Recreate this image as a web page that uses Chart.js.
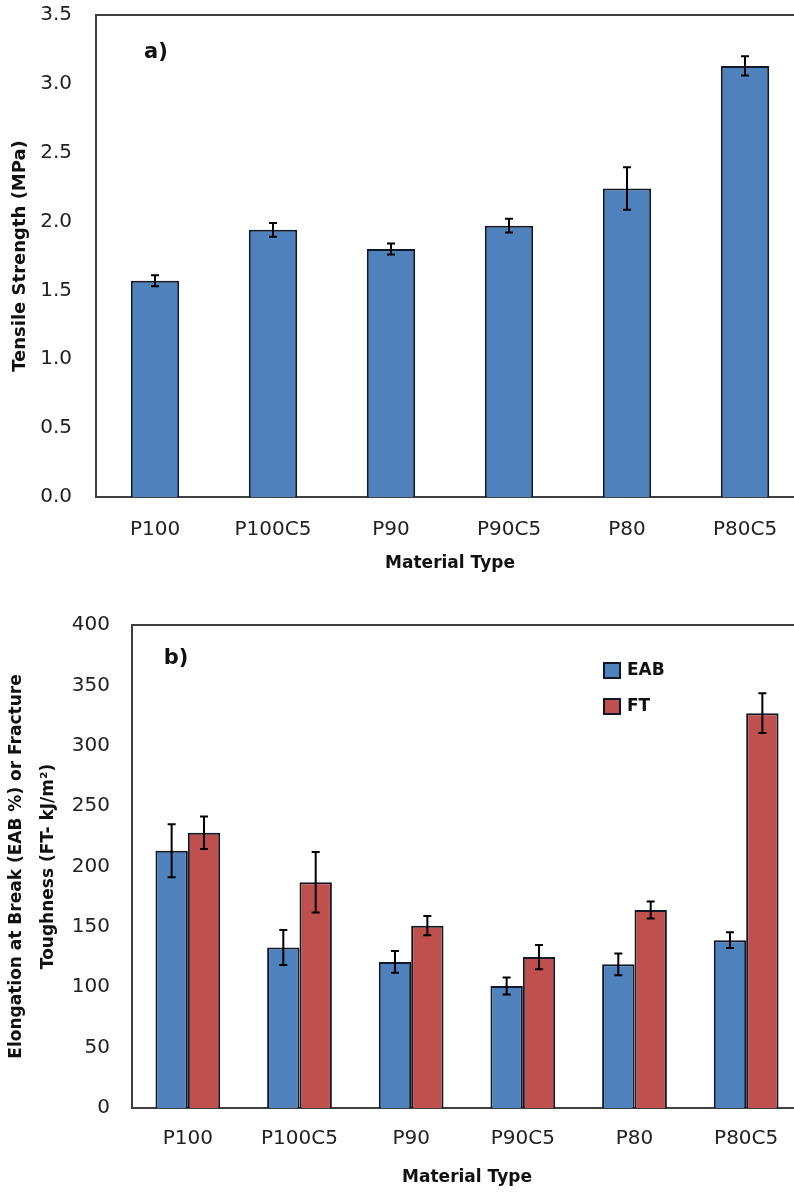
<!DOCTYPE html>
<html>
<head>
<meta charset="utf-8">
<script src="https://cdn.jsdelivr.net/npm/chart.js@4.4.1/dist/chart.umd.min.js"></script>
<style>
  body { margin: 0; background: #fff; overflow: hidden; width: 794px; height: 1193px; }
  canvas { display: block; }
</style>
</head>
<body>
<canvas id="chartA" width="804" height="590"></canvas>
<canvas id="chartB" width="802" height="603"></canvas>
<script>
// data
const categories = ["P100", "P100C5", "P90", "P90C5", "P80", "P80C5"];
const tensile = [1.57, 1.94, 1.80, 1.97, 2.24, 3.13];
const tensileErr = [0.04, 0.05, 0.04, 0.05, 0.155, 0.07];
const eab = [213, 133, 121, 101, 119, 139];
const eabErr = [22, 14.5, 9, 7, 9, 6.5];
const ft = [228, 187, 151, 125, 164, 327];
const ftErr = [13.5, 25, 8, 10, 7, 16.5];
const tensileTicks = [0, 0.5, 1, 1.5, 2, 2.5, 3, 3.5];
const toughTicks = [0, 50, 100, 150, 200, 250, 300, 350, 400];

const FONT = "'DejaVu Sans', sans-serif";
const BLUE = "#4f81bd";
const RED = "#c0504d";
const EDGE = "#111827";
const AXIS = "#404040";

Chart.defaults.font.family = FONT;
Chart.defaults.color = "#222";

// error bars, drawn through the y scale
const errorBars = {
  id: "errorBars",
  afterDatasetsDraw(chart) {
    const ctx = chart.ctx;
    const y = chart.scales.y;
    chart.data.datasets.forEach((ds, i) => {
      const meta = chart.getDatasetMeta(i);
      meta.data.forEach((bar, j) => {
        const v = ds.data[j], e = ds.errors[j];
        const top = y.getPixelForValue(v + e);
        const bot = y.getPixelForValue(v - e);
        ctx.save();
        ctx.strokeStyle = "#000";
        ctx.lineWidth = 2;
        ctx.beginPath();
        ctx.moveTo(bar.x, top); ctx.lineTo(bar.x, bot);
        ctx.moveTo(bar.x - 4, top); ctx.lineTo(bar.x + 4, top);
        ctx.moveTo(bar.x - 4, bot); ctx.lineTo(bar.x + 4, bot);
        ctx.stroke();
        ctx.restore();
      });
    });
  }
};

// top frame line + panel letter + optional legend
const decor = {
  id: "decor",
  afterDraw(chart, args, opts) {
    const ctx = chart.ctx;
    const a = chart.chartArea;
    ctx.save();
    ctx.strokeStyle = AXIS;
    ctx.lineWidth = 2;
    ctx.beginPath();
    ctx.moveTo(a.left - 1, a.top); ctx.lineTo(a.right, a.top);
    ctx.stroke();
    ctx.fillStyle = "#111";
    ctx.font = "bold 21px " + FONT;
    ctx.textAlign = "center";
    ctx.textBaseline = "middle";
    ctx.fillText(opts.letter, a.left + opts.lx, a.top + opts.ly);
    if (opts.legend) {
      ctx.font = "bold 17px " + FONT;
      ctx.textAlign = "left";
      chart.data.datasets.forEach((ds, i) => {
        const x = opts.legend.x, yy = opts.legend.y + i * 36;
        ctx.fillStyle = ds.backgroundColor;
        ctx.fillRect(x, yy, 16, 15);
        ctx.strokeStyle = EDGE;
        ctx.lineWidth = 2;
        ctx.strokeRect(x, yy, 16, 15);
        ctx.fillStyle = "#111";
        ctx.fillText(ds.label, x + 23, yy + 8);
      });
    }
    ctx.restore();
  }
};

function yScale(min, max, ticks, fmt, title, titleFont, pad, width, tickPad) {
  return {
    min: min, max: max,
    afterBuildTicks: s => { s.ticks = ticks.map(v => ({ value: v })); },
    afterFit: s => { s.width = width; s.paddingTop = 0; s.paddingBottom = 0; },
    grid: { display: false, drawTicks: false },
    border: { display: true, color: AXIS, width: 2 },
    ticks: { callback: fmt, font: { size: 20, family: FONT }, color: "#222", padding: tickPad },
    title: { display: true, text: title, font: titleFont, color: "#111", padding: pad }
  };
}

function xScale(height, tickPad, titlePad) {
  return {
    afterFit: s => { s.height = height; s.paddingLeft = 0; s.paddingRight = 0; },
    grid: { display: false, drawTicks: false },
    border: { display: true, color: AXIS, width: 2 },
    ticks: { font: { size: 20, family: FONT }, color: "#222", padding: tickPad },
    title: { display: true, text: "Material Type", font: { size: 17, weight: "bold", family: FONT }, color: "#111", padding: { top: 0, bottom: titlePad } }
  };
}

new Chart(document.getElementById("chartA"), {
  type: "bar",
  data: {
    labels: categories,
    datasets: [{
      label: "Tensile Strength",
      data: tensile,
      errors: tensileErr,
      backgroundColor: BLUE,
      borderColor: EDGE,
      borderWidth: 2,
      borderSkipped: "bottom",
      barPercentage: 0.41,
      categoryPercentage: 1
    }]
  },
  options: {
    responsive: false,
    animation: false,
    layout: { padding: { top: 15, left: 0, right: 0, bottom: 0 } },
    plugins: {
      legend: { display: false },
      tooltip: { enabled: false },
      decor: { letter: "a)", lx: 60, ly: 38 }
    },
    scales: {
      x: xScale(93, 21, 16),
      y: yScale(0, 3.5, tensileTicks, v => v.toFixed(1), "Tensile Strength (MPa)",
        { size: 18, weight: "bold", family: FONT }, { top: 10, bottom: 0 }, 96, 24)
    }
  },
  plugins: [errorBars, decor]
});

new Chart(document.getElementById("chartB"), {
  type: "bar",
  data: {
    labels: categories,
    datasets: [{
      label: "EAB",
      data: eab,
      errors: eabErr,
      backgroundColor: BLUE,
      borderColor: EDGE,
      borderWidth: 2,
      borderSkipped: "bottom",
      barPercentage: 1,
      categoryPercentage: 0.58
    }, {
      label: "FT",
      data: ft,
      errors: ftErr,
      backgroundColor: RED,
      borderColor: EDGE,
      borderWidth: 2,
      borderSkipped: "bottom",
      barPercentage: 1,
      categoryPercentage: 0.58
    }]
  },
  options: {
    responsive: false,
    animation: false,
    layout: { padding: { top: 35, left: 0, right: 0, bottom: 0 } },
    plugins: {
      legend: { display: false },
      tooltip: { enabled: false },
      decor: { letter: "b)", lx: 44, ly: 34, legend: { x: 604, y: 73 } }
    },
    scales: {
      x: xScale(85, 19, 5),
      y: yScale(0, 400, toughTicks, v => String(v),
        ["Elongation at Break (EAB %) or Fracture", "Toughness (FT- kJ/m\u00b2)"],
        { size: 17, weight: "bold", family: FONT, lineHeight: 1.85 }, { top: 1, bottom: 0 }, 132, 22)
    }
  },
  plugins: [errorBars, decor]
});
</script>
</body>
</html>
